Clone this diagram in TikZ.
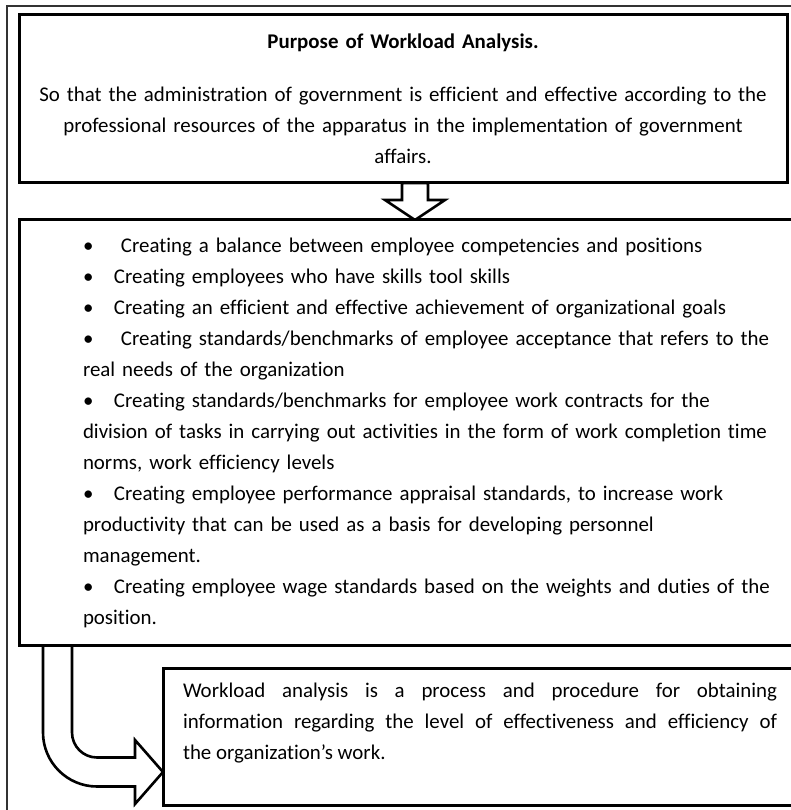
\documentclass[tikz,border=0pt]{standalone}
\usepackage{fontspec}
\setmainfont{Carlito}[Ligatures={NoCommon}]
\usetikzlibrary{calc}
\newcommand{\bulitem}{\makebox[31pt][l]{\textbullet}}
\pgfdeclarelayer{bglayer}
\pgfdeclarelayer{arrowlayer}
\pgfsetlayers{bglayer,arrowlayer,main}
\begin{document}
\begin{tikzpicture}[x=1pt,y=-1pt,
  box/.style={draw=black, line width=3pt, fill=white, inner sep=0pt, outer sep=0pt,
    anchor=north west, font=\fontsize{20.9}{31}\selectfont},
  blockarrow/.style={draw=black, line width=2.6pt, fill=white, line join=miter},
  frameline/.style={draw=black!80, line width=1.2pt}]
\useasboundingbox (0,0) rectangle (790,810);
\begin{pgfonlayer}{bglayer}
  \fill[white] (0,0) rectangle (790,810);
  \draw[frameline] (7,830) -- (7,6) -- (830,6);
\end{pgfonlayer}

% boxes
\node[box, minimum width=768pt, minimum height=168pt, text width=750pt, inner xsep=9pt, align=center] (purpose) at (19,15)
  {\textbf{Purpose of Workload Analysis.}\\[22pt]
   So that the administration of government is efficient and effective according to the\\
   professional resources of the apparatus in the implementation of government\\
   affairs.};

\node[box, minimum height=425pt, text width=717pt, inner xsep=64pt, align=left] (tasks) at (19,220)
  {\bulitem\ Creating a balance between employee competencies and positions\\
   \bulitem Creating employees who have skills tool skills\\
   \bulitem Creating an efficient and effective achievement of organizational goals\\
   \bulitem\ Creating standards/benchmarks of employee acceptance that refers to the\\
   real needs of the organization\\
   \bulitem Creating standards/benchmarks for employee work contracts for the\\
   division of tasks in carrying out activities in the form of work completion time\\
   norms, work efficiency levels\\
   \bulitem Creating employee performance appraisal standards, to increase work\\
   productivity that can be used as a basis for developing personnel\\
   management.\\
   \bulitem Creating employee wage standards based on the weights and duties of the\\
   position.};

\node[box, minimum height=137pt, text width=594pt, inner xsep=20pt, align=justify] (definition) at (163,668)
  {Workload analysis is a process and procedure for obtaining\linebreak
   information regarding the level of effectiveness and efficiency of\linebreak
   the organization's work.\\\mbox{}};

% connectors (block arrows)
\coordinate (dtop) at ($(purpose.south)+(12,0)$);
\coordinate (dtip) at (dtop |- tasks.north);
\coordinate (c0) at ($(tasks.south west)+(38.5,0)$);
\coordinate (ctip) at ($(definition.south west)+(0,-33)$);
\begin{pgfonlayer}{arrowlayer}
  \draw[blockarrow] ($(dtop)+(-13,0)$) -- ($(dtop)+(-13,17)$) -- ($(dtop)+(-30,17)$)
    -- (dtip) -- ($(dtop)+(30,17)$) -- ($(dtop)+(13,17)$) -- ($(dtop)+(13,0)$) -- cycle;
  \draw[blockarrow] ($(c0)+(-14.5,0)$) -- ($(c0)+(-14.5,87.5)$)
    .. controls ($(c0)+(-14.5,117.3)$) and ($(c0)+(9.7,141.5)$) .. ($(c0)+(39.5,141.5)$)
    -- ($(ctip)+(-28,14.5)$) -- ($(ctip)+(-28,32)$) -- (ctip) -- ($(ctip)+(-28,-32)$)
    -- ($(ctip)+(-28,-14.5)$) -- ($(c0)+(39.5,112.5)$)
    .. controls ($(c0)+(25.7,112.5)$) and ($(c0)+(14.5,101.3)$) .. ($(c0)+(14.5,87.5)$)
    -- ($(c0)+(14.5,0)$) -- cycle;
\end{pgfonlayer}
\end{tikzpicture}
\end{document}
